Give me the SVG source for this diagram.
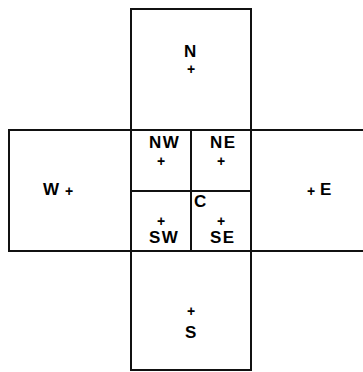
<svg xmlns="http://www.w3.org/2000/svg" width="363" height="372" viewBox="0 0 363 372">
<style>
.box{fill:none;stroke:#111;stroke-width:2}
.lbl{font-family:"Liberation Sans",Arial,sans-serif;font-weight:bold;font-size:17px;fill:#000;letter-spacing:1.5px}
.pl{font-family:"Liberation Sans",Arial,sans-serif;font-weight:bold;font-size:14px;fill:#000;text-anchor:middle}
</style>
<rect width="363" height="372" fill="#fff"/>
<g id="N"><rect class="box" x="131" y="9" width="120" height="121"/><text class="lbl" x="184" y="57">N</text><text class="pl" x="191" y="74">+</text></g>
<g id="W"><rect class="box" x="9" y="130" width="122" height="121"/><text class="lbl" x="43" y="195">W</text><text class="pl" x="69" y="196">+</text></g>
<g id="E"><rect class="box" x="251" y="130" width="120" height="121"/><text class="lbl" x="320" y="195">E</text><text class="pl" x="311" y="196">+</text></g>
<g id="S"><rect class="box" x="131" y="251" width="120" height="119"/><text class="lbl" x="185" y="338">S</text><text class="pl" x="191" y="316">+</text></g>
<g id="NW"><rect class="box" x="131" y="130" width="60" height="61"/><text class="lbl" x="149" y="148">NW</text><text class="pl" x="161" y="166">+</text></g>
<g id="NE"><rect class="box" x="191" y="130" width="60" height="61"/><text class="lbl" x="210" y="148">NE</text><text class="pl" x="221" y="166">+</text></g>
<g id="SW"><rect class="box" x="131" y="191" width="60" height="60"/><text class="lbl" x="149" y="243">SW</text><text class="pl" x="161" y="226">+</text></g>
<g id="SE"><rect class="box" x="191" y="191" width="60" height="60"/><text class="lbl" x="210" y="243">SE</text><text class="pl" x="221" y="226">+</text></g>
<g id="C"><text class="lbl" x="194" y="207">C</text></g>
<g id="connectors"></g>
</svg>
